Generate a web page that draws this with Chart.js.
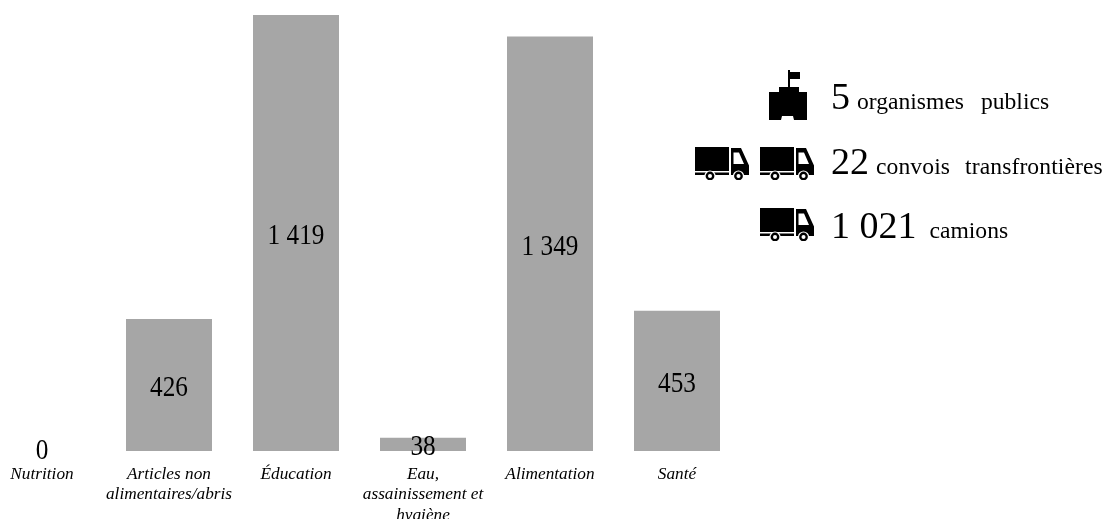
<!DOCTYPE html>
<html lang="fr">
<head>
<meta charset="utf-8">
<title>Assistance par secteur</title>
<script src="https://cdn.jsdelivr.net/npm/chart.js@4/dist/chart.umd.min.js"></script>
<style>
  html, body { margin: 0; padding: 0; background: #fff; }
  #wrap { position: relative; width: 1108px; height: 519px; overflow: hidden; font-family: "Liberation Serif", serif; color: #000; }
  canvas { position: absolute; left: 0; top: 0; }
  .row { position: absolute; left: 831px; white-space: pre; line-height: 40px; height: 40px; }
  .num { font-size: 38px; }
  .txt { font-size: 23.6px; word-spacing: 11px; margin-left: 7px; }
  #t1 { word-spacing: 9px; letter-spacing: 0.1px; }
  #t2 { margin-left: 13px; }
  svg.icon { position: absolute; }
</style>
</head>
<body>
<div id="wrap">
  <canvas id="chart" width="1108" height="519"></canvas>
  <svg width="0" height="0" style="position:absolute">
    <defs>
      <symbol id="truck" viewBox="0 0 54 33">
        <path fill="#000" d="M0 0H34V24H0Z"/>
        <path fill="#000" d="M0 25.5H34V28H0Z"/>
        <path fill="#000" fill-rule="evenodd" d="M36 1H46L54 18.500V28H36ZM38.500 5.500V17H49L44 5.500Z"/>
        <circle cx="15" cy="29" r="5.600" fill="#fff"/>
        <circle cx="15" cy="29" r="4.400" fill="#000"/>
        <circle cx="15" cy="29" r="2" fill="#fff"/>
        <circle cx="43.500" cy="29" r="5.600" fill="#fff"/>
        <circle cx="43.500" cy="29" r="4.400" fill="#000"/>
        <circle cx="43.500" cy="29" r="2" fill="#fff"/>
      </symbol>
      <symbol id="building" viewBox="0 0 38 50">
        <path fill="#000" d="M19 0H21V2H31V9H21V17H30V22H38V50H25L24 46H13L12 50H0V22H10V17H19Z"/>
      </symbol>
    </defs>
  </svg>
  <svg class="icon" style="left:769px;top:70px" width="38" height="50"><use href="#building"/></svg>
  <svg class="icon" style="left:695px;top:147px" width="54" height="33"><use href="#truck"/></svg>
  <svg class="icon" style="left:760px;top:147px" width="54" height="33"><use href="#truck"/></svg>
  <svg class="icon" style="left:760px;top:208px" width="54" height="33"><use href="#truck"/></svg>
  <div class="row" style="top:76px"><span class="num" id="n0"></span><span class="txt" id="t0"></span></div>
  <div class="row" style="top:141px"><span class="num" id="n1"></span><span class="txt" id="t1"></span></div>
  <div class="row" style="top:205px"><span class="num" id="n2"></span><span class="txt" id="t2"></span></div>
</div>
<script>
const categories = [
  ['Nutrition'],
  ['Articles non', 'alimentaires/abris'],
  ['Éducation'],
  ['Eau,', 'assainissement et', 'hygiène'],
  ['Alimentation'],
  ['Santé']
];
const values = [0, 426, 1419, 38, 1349, 453];
const valueLabels = ['0', '426', '1 419', '38', '1 349', '453'];
const summaryNumbers = ['5', '22', '1 021'];
const summaryLabels = ['organismes publics', 'convois transfrontières', 'camions'];

summaryNumbers.forEach((n, i) => {
  document.getElementById('n' + i).textContent = n;
  document.getElementById('t' + i).textContent = summaryLabels[i];
});

// Writes each value centred on its bar in a slightly condensed face,
// holding a zero label just above the category names.
const barValues = {
  id: 'barValues',
  afterDatasetsDraw(chart) {
    const { ctx, scales: { y } } = chart;
    const base = y.getPixelForValue(0);
    chart.getDatasetMeta(0).data.forEach((bar, i) => {
      ctx.save();
      ctx.font = '29px "Liberation Serif"';
      ctx.fillStyle = '#000';
      ctx.textAlign = 'center';
      ctx.textBaseline = 'alphabetic';
      ctx.translate(bar.x, Math.min((bar.y + base) / 2 + 11, base + 9));
      ctx.scale(0.87, 1);
      ctx.fillText(valueLabels[i], 0, 0);
      ctx.restore();
    });
  }
};

new Chart(document.getElementById('chart'), {
  type: 'bar',
  data: {
    labels: categories,
    datasets: [{
      data: values,
      backgroundColor: (c) => (c.raw > 0 ? '#a6a6a6' : 'transparent'),
      borderWidth: 0,
      inflateAmount: 0.8,
      barPercentage: 1,
      categoryPercentage: 84.4 / 127,
      clip: false
    }]
  },
  plugins: [barValues],
  options: {
    responsive: false,
    animation: false,
    layout: { padding: { left: 42, right: 431, top: 15.8, bottom: 0 } },
    plugins: { legend: { display: false }, tooltip: { enabled: false } },
    scales: {
      x: {
        offset: false,
        grid: { display: false },
        border: { display: false },
        afterFit(axis) { axis.height = 68.8; },
        ticks: {
          autoSkip: false,
          maxRotation: 0,
          minRotation: 0,
          padding: 5.5,
          color: '#000',
          font: { family: '"Liberation Serif"', size: 17.3, style: 'italic', lineHeight: 1.19 }
        }
      },
      y: { display: false, min: 0, max: 1419 }
    }
  }
});
</script>
</body>
</html>
